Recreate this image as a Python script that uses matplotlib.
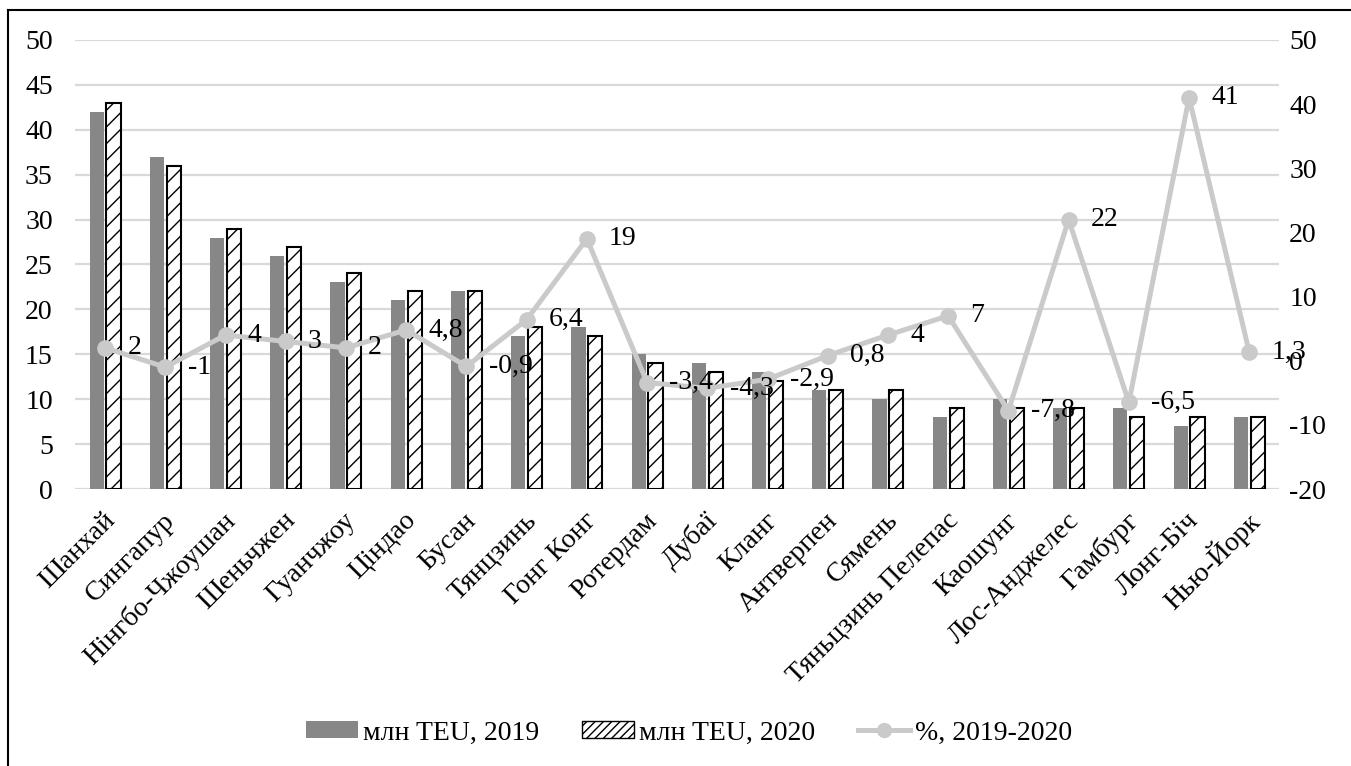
import matplotlib
matplotlib.use('Agg')
import matplotlib.pyplot as plt
import matplotlib.transforms as mtransforms
import numpy as np
from matplotlib.lines import Line2D

plt.rcParams['font.family'] = ['Liberation Serif', 'DejaVu Serif']
plt.rcParams['axes.unicode_minus'] = False
plt.rcParams['hatch.linewidth'] = 1.0

# Port names and throughput (mln TEU), change in %
ports = ['Шанхай', 'Сингапур', 'Нінгбо-Чжоушан', 'Шеньчжен', 'Гуанчжоу', 'Ціндао',
         'Бусан', 'Тянцзинь', 'Гонг Конг', 'Ротердам', 'Дубаї', 'Кланг', 'Антверпен',
         'Сямень', 'Тяньцзинь Пелепас', 'Каошунг', 'Лос-Анджелес', 'Гамбург',
         'Лонг-Біч', 'Нью-Йорк']
teu_2019 = [42, 37, 28, 26, 23, 21, 22, 17, 18, 15, 14, 13, 11, 10, 8, 10, 9, 9, 7, 8]
teu_2020 = [43, 36, 29, 27, 24, 22, 22, 18, 17, 14, 13, 12, 11, 11, 9, 9, 9, 8, 8, 8]
change_pct = [2, -1, 4, 3, 2, 4.8, -0.9, 6.4, 19, -3.4, -4.3, -2.9, 0.8, 4, 7,
              -7.8, 22, -6.5, 41, 1.3]

bar_grey = '#878787'
line_grey = '#cacaca'
grid_grey = '#d9d9d9'
fs = 20

fig = plt.figure(figsize=(13.51, 7.66), dpi=100)
ax = fig.add_axes([0.0555, 0.3616, 0.8915, 0.5862])

x = np.arange(len(ports))
w = 0.235
ax.bar(x - 0.14, teu_2019, width=w, color=bar_grey, zorder=2)
ax.bar(x + 0.14, teu_2020, width=w, color='white', edgecolor='black',
       linewidth=1.5, hatch='//', zorder=2)

ax.set_xlim(-0.5, len(ports) - 0.5)
ax.set_ylim(0, 50)
ax.set_yticks(np.arange(0, 51, 5))
ax.yaxis.grid(True, color=grid_grey, linewidth=1.6, zorder=0)
ax.set_axisbelow(True)
for s in ax.spines.values():
    s.set_visible(False)
ax.tick_params(axis='both', length=0, labelsize=fs)
ax.tick_params(axis='y', pad=16)
ax.set_xticks(x)
ax.set_xticklabels(ports, rotation=45, ha='right', va='center', rotation_mode='anchor')
ax.tick_params(axis='x', pad=20)
shift = mtransforms.ScaledTranslation(6 / 100, 0, fig.dpi_scale_trans)
for lbl in ax.get_xticklabels():
    lbl.set_transform(lbl.get_transform() + shift)

# second axis for the percentage line
ax2 = ax.twinx()
ax2.set_ylim(-20, 50)
ax2.set_yticks(np.arange(-20, 51, 10))
for s in ax2.spines.values():
    s.set_visible(False)
ax2.tick_params(axis='y', length=0, labelsize=fs, pad=7)
ax2.plot(x, change_pct, color=line_grey, linewidth=3.6, marker='o',
         markersize=11, zorder=3)
for xi, v in zip(x, change_pct):
    ax2.annotate(f'{v:g}'.replace('.', ','), (xi, v), xytext=(16, 0),
                 textcoords='offset points', ha='left', va='center',
                 fontsize=fs, zorder=4)

handles = [
    plt.Rectangle((0, 0), 1, 1, facecolor=bar_grey),
    plt.Rectangle((0, 0), 1, 1, facecolor='white', edgecolor='black',
                  linewidth=1.0, hatch='////'),
    Line2D([0], [0], color=line_grey, linewidth=3.6, marker='o', markersize=10),
]
fig.legend(handles, ['млн TEU, 2019', 'млн TEU, 2020', '%, 2019-2020'],
           loc='center', bbox_to_anchor=(0.51, 0.043), ncol=3, frameon=False,
           fontsize=fs, handlelength=1.87, handleheight=0.55,
           handletextpad=0.18, columnspacing=1.55)

# outer frame of the chart area
fig.add_artist(Line2D([8 / 1351, 8 / 1351], [0, 1 - 10 / 766], color='black',
                      linewidth=1.5, transform=fig.transFigure))
fig.add_artist(Line2D([8 / 1351, 1], [1 - 10 / 766, 1 - 10 / 766], color='black',
                      linewidth=1.5, transform=fig.transFigure))

fig.savefig('out.png', dpi=100)
